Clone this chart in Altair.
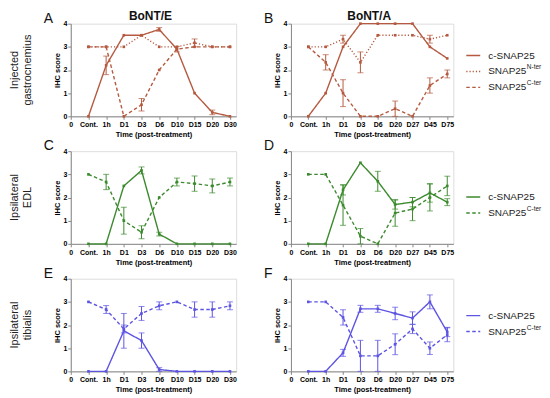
import json
import altair as alt
import pandas as pd

FONT = "Liberation Sans"

# x categories
cats_e = ["0", "Cont.", "1h", "D1", "D3", "D6", "D10", "D15", "D20", "D30"]
cats_a = ["0", "Cont.", "1h", "D1", "D3", "D6", "D20", "D27", "D45", "D75"]

# Panel A: BoNT/E, injected gastrocnemius
A_c = [0, 2.2, 3.5, 3.5, 3.75, 2.9, 1.0, 0.17, 0]
A_c_err = [0, 0.4, 0, 0, 0.08, 0.12, 0, 0.1, 0]
A_n = [3, 3, 3, 3.5, 3, 3, 3.17, 3, 3]
A_n_err = [0, 0, 0, 0, 0, 0, 0.17, 0, 0]
A_t = [3, 3, 0, 0.5, 2.0, 2.9, 3.0, 3, 3]
A_t_err = [0, 0, 0, 0.27, 0, 0, 0, 0, 0]

# Panel B: BoNT/A, injected gastrocnemius
B_c = [0, 1.0, 3.0, 4, 4, 4, 4, 3.0, 2.5]
B_c_err = [0, 0, 0, 0, 0, 0, 0, 0, 0]
B_n = [3, 3, 3.33, 2.33, 3.5, 3.5, 3.5, 3.33, 3.5]
B_n_err = [0, 0, 0.17, 0.45, 0, 0, 0, 0.17, 0]
B_t = [3, 2.33, 1.0, 0, 0, 0.33, 0, 1.33, 1.83]
B_t_err = [0, 0.33, 0.58, 0, 0, 0.33, 0, 0.33, 0.17]

# Panel C: BoNT/E, ipsilateral EDL
C_c = [0, 0, 2.5, 3.17, 0.42, 0, 0, 0, 0]
C_c_err = [0, 0, 0, 0.15, 0.08, 0, 0, 0, 0]
C_t = [3, 2.67, 1.0, 0.5, 2.0, 2.67, 2.6, 2.5, 2.67]
C_t_err = [0, 0.33, 0.58, 0.28, 0, 0.17, 0.33, 0.3, 0.17]

# Panel D: BoNT/A, ipsilateral EDL
D_c = [0, 0, 2.33, 3.5, 2.7, 1.7, 1.8, 2.2, 1.8]
D_c_err = [0, 0, 0.22, 0, 0.43, 0.2, 0.2, 0.4, 0.15]
D_t = [3, 3, 1.67, 0.33, 0, 1.33, 1.5, 2.0, 2.5]
D_t_err = [0, 0, 0.87, 0.33, 0, 0.57, 0.5, 0.58, 0.42]

# Panel E: BoNT/E, ipsilateral tibialis
E_c = [0, 0, 1.75, 1.33, 0.08, 0, 0, 0, 0]
E_c_err = [0, 0, 0.75, 0.33, 0.08, 0, 0, 0, 0]
E_t = [3, 2.67, 1.83, 2.5, 2.83, 3.0, 2.67, 2.67, 2.83]
E_t_err = [0, 0.17, 0.17, 0.3, 0.17, 0, 0.33, 0.33, 0.17]

# Panel F: BoNT/A, ipsilateral tibialis
F_c = [0, 0, 0.8, 2.7, 2.7, 2.5, 2.3, 3.0, 1.7]
F_c_err = [0, 0, 0.15, 0.15, 0.15, 0.27, 0.27, 0.3, 0.2]
F_t = [3, 3, 2.33, 0.67, 0.67, 1.17, 1.83, 1.0, 1.58]
F_t_err = [0, 0, 0.33, 0.67, 0.67, 0.45, 0.2, 0.27, 0.3]

legend_base = {"c": "c-SNAP25", "n": "SNAP25", "t": "SNAP25"}
legend_sup = {"c": "", "n": "N-ter", "t": "C-ter"}

BROWN = "#b55a40"
GREEN = "#3c8a2e"
BLUE = "#5d54e2"

DASH = {"c": [1, 0], "n": [1.2, 2], "t": [3.5, 2.5]}
H = 93
W_L = 166
W_R = 163
XMAX = 9.35


def panel(cats, series, color, width, letter, col_title=None, row_label=None,
          legend_y=None):
    recs = []
    for key, vals, errs in series:
        for lab, v, e in zip(cats[1:], vals, errs):
            recs.append({"idx": cats.index(lab), "value": v, "lo": v - e,
                         "hi": v + e, "err": e, "series": key})
    df = pd.DataFrame(recs)
    keys = [s[0] for s in series]
    label_expr = json.dumps(cats) + "[datum.value]"
    xscale = alt.Scale(domain=[0, XMAX], nice=False, zero=False)
    yscale = alt.Scale(domain=[0, 4], nice=False)
    xaxis = alt.Axis(values=list(range(len(cats))), labelExpr=label_expr,
                     title="Time (post-treatment)", labelFontSize=7,
                     labelFontWeight="bold", labelFlush=False, labelOverlap=False,
                     labelPadding=1.5, tickSize=3, titleFontSize=7.5,
                     titleFontWeight="bold", titlePadding=3, grid=False)
    yaxis = alt.Axis(values=[0, 1, 2, 3, 4], title="IHC score", labelFontSize=7,
                     labelFontWeight="bold", labelPadding=1, tickSize=3,
                     titleFontSize=7.5, titleFontWeight="bold", titlePadding=1.5,
                     grid=False, labelFlush=False, labelOverlap=False)

    def X(f):
        return alt.X(f, scale=xscale, axis=xaxis)

    def Y(f):
        return alt.Y(f, scale=yscale, axis=yaxis)

    base = alt.Chart(df)
    line = base.mark_line(color=color, strokeWidth=1.4).encode(
        x=X("idx:Q"),
        y=Y("value:Q"),
        strokeDash=alt.StrokeDash("series:N",
                                  scale=alt.Scale(domain=keys, range=[DASH[k] for k in keys]),
                                  legend=None),
        detail="series:N",
    )
    pts = base.mark_square(color=color, size=7, opacity=1, filled=True).encode(
        x=X("idx:Q"), y=Y("value:Q"))
    errd = base.transform_filter("datum.err > 0")
    rule = errd.mark_rule(color=color, strokeWidth=1).encode(
        x=X("idx:Q"), y=Y("lo:Q"), y2="hi:Q")
    cap_lo = errd.mark_tick(color=color, thickness=1, size=6, orient="horizontal").encode(
        x=X("idx:Q"), y=Y("lo:Q"))
    cap_hi = errd.mark_tick(color=color, thickness=1, size=6, orient="horizontal").encode(
        x=X("idx:Q"), y=Y("hi:Q"))
    layers = [line, rule, cap_lo, cap_hi, pts]

    # panel letter
    layers.append(alt.Chart(pd.DataFrame({"t": [letter]})).mark_text(
        align="left", baseline="middle", fontSize=14, font=FONT, color="#111").encode(
        text="t:N", x=alt.value(-27), y=alt.value(-5)))
    if col_title:
        layers.append(alt.Chart(pd.DataFrame({"t": [col_title]})).mark_text(
            align="center", baseline="middle", fontSize=12, fontWeight="bold",
            font=FONT, color="#111").encode(
            text="t:N", x=alt.value(width / 2 - 3), y=alt.value(-8)))
    if row_label:
        for j, part in enumerate(row_label):
            layers.append(alt.Chart(pd.DataFrame({"t": [part]})).mark_text(
                align="center", baseline="middle", fontSize=11, font=FONT,
                color="#222", angle=270).encode(
                text="t:N", x=alt.value(-56 + 13 * j), y=alt.value(H / 2)))
    if legend_y is not None:
        n = len(keys)
        dy = 16
        y0 = legend_y - dy * (n - 1) / 2
        for k, key in enumerate(keys):
            yy = y0 + k * dy
            ldf = pd.DataFrame({"b": [legend_base[key]], "s": [legend_sup[key]]})
            lc = alt.Chart(ldf)
            layers.append(lc.mark_rule(color=color, strokeWidth=1.4,
                                       strokeDash=DASH[key]).encode(
                x=alt.value(width + 13), x2=alt.value(width + 27), y=alt.value(yy)))
            layers.append(lc.mark_text(align="left", baseline="middle", fontSize=10,
                                       font=FONT, color="#222").encode(
                text="b:N", x=alt.value(width + 35), y=alt.value(yy)))
            if legend_sup[key]:
                layers.append(lc.mark_text(align="left", baseline="middle",
                                           fontSize=6.5, font=FONT, color="#222").encode(
                    text="s:N", x=alt.value(width + 35 + 38.8), y=alt.value(yy - 4)))
    return alt.layer(*layers).properties(width=width, height=H)


pA = panel(cats_e, [("c", A_c, A_c_err), ("n", A_n, A_n_err), ("t", A_t, A_t_err)],
           BROWN, W_L, "A", col_title="BoNT/E", row_label=["Injected", "gastrocnemius"])
pB = panel(cats_a, [("c", B_c, B_c_err), ("n", B_n, B_n_err), ("t", B_t, B_t_err)],
           BROWN, W_R, "B", col_title="BoNT/A", legend_y=48)
pC = panel(cats_e, [("c", C_c, C_c_err), ("t", C_t, C_t_err)],
           GREEN, W_L, "C", row_label=["Ipsilateral", "EDL"])
pD = panel(cats_a, [("c", D_c, D_c_err), ("t", D_t, D_t_err)],
           GREEN, W_R, "D", legend_y=54)
pE = panel(cats_e, [("c", E_c, E_c_err), ("t", E_t, E_t_err)],
           BLUE, W_L, "E", row_label=["Ipsilateral", "tibialis"])
pF = panel(cats_a, [("c", F_c, F_c_err), ("t", F_t, F_t_err)],
           BLUE, W_R, "F", legend_y=45)

chart = alt.concat(pA, pB, pC, pD, pE, pF, columns=2,
                   spacing={"row": 35, "column": 55}, bounds="flush").properties(
    padding=0
).configure_view(stroke=None).configure_axis(
    domainColor="black", tickColor="black", labelColor="black", titleColor="black",
    labelFont=FONT, titleFont=FONT, domainWidth=1, tickWidth=1
).configure(font=FONT)

chart.save("out.html", embed_options={"renderer": "svg", "actions": False})
